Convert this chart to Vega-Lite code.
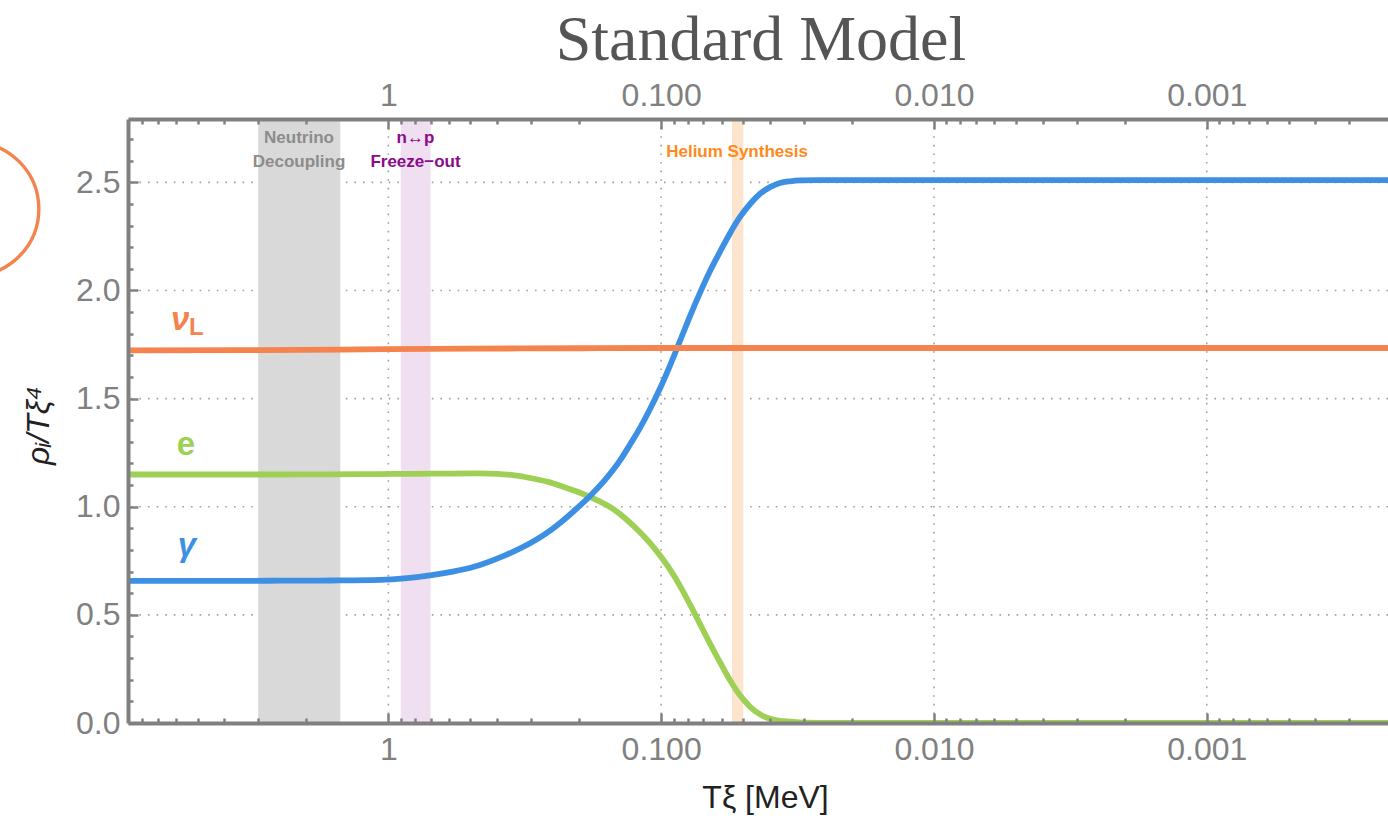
{
  "$schema": "https://vega.github.io/schema/vega-lite/v6.json",
  "width": 1260,
  "height": 604,
  "autosize": {"type": "none"},
  "padding": {"left": 128, "top": 119, "right": 0, "bottom": 96},
  "background": "white",
  "config": {"view": {"stroke": null}, "font": "Liberation Sans"},
  "title": {"text": "Standard Model", "font": "Liberation Serif", "fontSize": 64, "fontWeight": "normal", "color": "#555555", "anchor": "middle", "offset": 1, "dx": 3},
  "datasets": {
    "curves": [
      {"series": "e", "T": 9, "v": 1.149}, {"series": "e", "T": 4.9, "v": 1.149}, {"series": "e", "T": 2.495, "v": 1.149}, {"series": "e", "T": 1.636, "v": 1.150},
      {"series": "e", "T": 1.073, "v": 1.151}, {"series": "e", "T": 0.7037, "v": 1.153}, {"series": "e", "T": 0.4611, "v": 1.154}, {"series": "e", "T": 0.3996, "v": 1.152},
      {"series": "e", "T": 0.349, "v": 1.146}, {"series": "e", "T": 0.3024, "v": 1.133}, {"series": "e", "T": 0.262, "v": 1.116}, {"series": "e", "T": 0.2289, "v": 1.093},
      {"series": "e", "T": 0.1983, "v": 1.065}, {"series": "e", "T": 0.1718, "v": 1.031}, {"series": "e", "T": 0.1501, "v": 0.99}, {"series": "e", "T": 0.1356, "v": 0.947},
      {"series": "e", "T": 0.1195, "v": 0.882}, {"series": "e", "T": 0.1098, "v": 0.832}, {"series": "e", "T": 0.1009, "v": 0.775}, {"series": "e", "T": 0.0928, "v": 0.71},
      {"series": "e", "T": 0.0852, "v": 0.633}, {"series": "e", "T": 0.0783, "v": 0.547}, {"series": "e", "T": 0.0720, "v": 0.457}, {"series": "e", "T": 0.0662, "v": 0.367},
      {"series": "e", "T": 0.0608, "v": 0.28}, {"series": "e", "T": 0.0559, "v": 0.198}, {"series": "e", "T": 0.0514, "v": 0.128}, {"series": "e", "T": 0.0472, "v": 0.075},
      {"series": "e", "T": 0.0434, "v": 0.04}, {"series": "e", "T": 0.0399, "v": 0.02}, {"series": "e", "T": 0.0367, "v": 0.01}, {"series": "e", "T": 0.0337, "v": 0.006},
      {"series": "e", "T": 0.0310, "v": 0.003}, {"series": "e", "T": 0.0262, "v": 0.001}, {"series": "e", "T": 0.0203, "v": 0.0003}, {"series": "e", "T": 0.01, "v": 0},
      {"series": "e", "T": 0.0002166, "v": 0},
      {"series": "gamma", "T": 9, "v": 0.657}, {"series": "gamma", "T": 4.9, "v": 0.657}, {"series": "gamma", "T": 2.495, "v": 0.658}, {"series": "gamma", "T": 1.636, "v": 0.659},
      {"series": "gamma", "T": 1.073, "v": 0.662}, {"series": "gamma", "T": 0.7037, "v": 0.683}, {"series": "gamma", "T": 0.4611, "v": 0.731}, {"series": "gamma", "T": 0.3735, "v": 0.775},
      {"series": "gamma", "T": 0.3024, "v": 0.831}, {"series": "gamma", "T": 0.2664, "v": 0.873}, {"series": "gamma", "T": 0.2348, "v": 0.925}, {"series": "gamma", "T": 0.2068, "v": 0.985},
      {"series": "gamma", "T": 0.1822, "v": 1.05}, {"series": "gamma", "T": 0.1606, "v": 1.124}, {"series": "gamma", "T": 0.1415, "v": 1.214}, {"series": "gamma", "T": 0.1300, "v": 1.288},
      {"series": "gamma", "T": 0.1195, "v": 1.365}, {"series": "gamma", "T": 0.1098, "v": 1.452}, {"series": "gamma", "T": 0.1009, "v": 1.548}, {"series": "gamma", "T": 0.0928, "v": 1.653},
      {"series": "gamma", "T": 0.0852, "v": 1.768}, {"series": "gamma", "T": 0.0783, "v": 1.883}, {"series": "gamma", "T": 0.0720, "v": 1.99}, {"series": "gamma", "T": 0.0662, "v": 2.09},
      {"series": "gamma", "T": 0.0608, "v": 2.18}, {"series": "gamma", "T": 0.0559, "v": 2.265}, {"series": "gamma", "T": 0.0514, "v": 2.34}, {"series": "gamma", "T": 0.0472, "v": 2.4},
      {"series": "gamma", "T": 0.0434, "v": 2.447}, {"series": "gamma", "T": 0.0399, "v": 2.478}, {"series": "gamma", "T": 0.0367, "v": 2.497}, {"series": "gamma", "T": 0.0337, "v": 2.505},
      {"series": "gamma", "T": 0.0310, "v": 2.509}, {"series": "gamma", "T": 0.0262, "v": 2.51}, {"series": "gamma", "T": 0.01, "v": 2.51}, {"series": "gamma", "T": 0.0002166, "v": 2.51},
      {"series": "nu", "T": 9, "v": 1.723}, {"series": "nu", "T": 3, "v": 1.724}, {"series": "nu", "T": 1.5, "v": 1.727}, {"series": "nu", "T": 1, "v": 1.729},
      {"series": "nu", "T": 0.5, "v": 1.731}, {"series": "nu", "T": 0.2, "v": 1.733}, {"series": "nu", "T": 0.1, "v": 1.734}, {"series": "nu", "T": 0.0002166, "v": 1.734}
    ],
    "bands": [
      {"kind": "nd", "start": 3.0, "end": 1.5},
      {"kind": "np", "start": 0.9, "end": 0.7},
      {"kind": "he", "start": 0.055, "end": 0.05}
    ],
    "bandLabels": [
      {"kind": "nd", "T": 2.125, "v": 2.681, "text": "Neutrino"},
      {"kind": "nd", "T": 2.125, "v": 2.573, "text": "Decoupling"},
      {"kind": "np", "T": 0.795, "v": 2.681, "text": "n↔p"},
      {"kind": "np", "T": 0.795, "v": 2.573, "text": "Freeze−out"},
      {"kind": "he", "T": 0.0527, "v": 2.619, "text": "Helium Synthesis"}
    ],
    "gridX": [{"T": 1}, {"T": 0.1}, {"T": 0.01}, {"T": 0.001}],
    "gridY": [{"v": 0.5}, {"v": 1.0}, {"v": 1.5}, {"v": 2.0}, {"v": 2.5}]
  },
  "layer": [
    {
      "data": {"name": "gridX"},
      "mark": {"type": "rule", "color": "#a0a0a0", "strokeWidth": 1.6, "strokeDash": [1.6, 7]},
      "encoding": {
        "x": {
          "field": "T", "type": "quantitative",
          "scale": {"type": "log", "domain": [0.0002166, 9], "reverse": true, "nice": false, "zero": false},
          "axis": {
            "orient": "bottom",
            "values": [8, 7, 6, 5, 4, 3, 2, 1, 0.9, 0.8, 0.7, 0.6, 0.5, 0.4, 0.3, 0.2, 0.1, 0.09, 0.08, 0.07, 0.06, 0.05, 0.04, 0.03, 0.02, 0.01, 0.009, 0.008, 0.007, 0.006, 0.005, 0.004, 0.003, 0.002, 0.001, 0.0009, 0.0008, 0.0007, 0.0006, 0.0005, 0.0004, 0.0003],
            "grid": false,
            "domainColor": "#808080", "domainWidth": 4,
            "tickColor": "#808080", "tickWidth": 2.5,
            "tickSize": {"condition": {"test": "abs(log(datum.value)/LN10 - round(log(datum.value)/LN10)) < 0.01", "value": -10}, "value": -5},
            "labelExpr": "abs(log(datum.value)/LN10 - round(log(datum.value)/LN10)) < 0.01 ? (datum.value > 0.5 ? '1' : format(datum.value, '.3f')) : ''",
            "labelFont": "Liberation Sans", "labelFontSize": 32, "labelColor": "#808080", "labelPadding": 21,
            "labelOverlap": false, "labelFlush": false, "labelBound": false,
            "title": "Tξ [MeV]", "titleFont": "Liberation Sans", "titleFontSize": 32, "titleFontWeight": "normal", "titleColor": "#222222",
            "titleX": 637, "titleY": 84, "titleBaseline": "alphabetic", "titleAlign": "center",
            "zindex": 2
          }
        }
      }
    },
    {
      "data": {"name": "gridY"},
      "mark": {"type": "rule", "color": "#a0a0a0", "strokeWidth": 1.6, "strokeDash": [1.6, 7]},
      "encoding": {
        "y": {
          "field": "v", "type": "quantitative",
          "scale": {"domain": [0, 2.793], "nice": false, "zero": false},
          "axis": {
            "orient": "left",
            "values": [0, 0.1, 0.2, 0.3, 0.4, 0.5, 0.6, 0.7, 0.8, 0.9, 1.0, 1.1, 1.2, 1.3, 1.4, 1.5, 1.6, 1.7, 1.8, 1.9, 2.0, 2.1, 2.2, 2.3, 2.4, 2.5, 2.6, 2.7],
            "grid": false,
            "domainColor": "#808080", "domainWidth": 4,
            "tickColor": "#808080", "tickWidth": 2.5,
            "tickSize": {"condition": {"test": "abs(datum.value*2 - round(datum.value*2)) < 0.01", "value": -10}, "value": -5},
            "labelExpr": "abs(datum.value*2 - round(datum.value*2)) < 0.01 ? format(datum.value, '.1f') : ''",
            "labelFont": "Liberation Sans", "labelFontSize": 32, "labelColor": "#808080", "labelPadding": 18,
            "labelOverlap": false, "labelFlush": false, "labelBound": false,
            "title": "ρᵢ/Tξ⁴", "titleFont": "Liberation Sans", "titleFontSize": 32, "titleFontWeight": "normal", "titleFontStyle": "italic", "titleColor": "#222222",
            "titleX": -80, "titleY": 306, "titleAngle": 270, "titleBaseline": "alphabetic", "titleAlign": "center",
            "zindex": 2
          }
        }
      }
    },
    {
      "data": {"name": "bands"},
      "mark": {"type": "rect"},
      "encoding": {
        "x": {
          "field": "start", "type": "quantitative",
          "axis": {
            "orient": "top",
            "values": [8, 7, 6, 5, 4, 3, 2, 1, 0.9, 0.8, 0.7, 0.6, 0.5, 0.4, 0.3, 0.2, 0.1, 0.09, 0.08, 0.07, 0.06, 0.05, 0.04, 0.03, 0.02, 0.01, 0.009, 0.008, 0.007, 0.006, 0.005, 0.004, 0.003, 0.002, 0.001, 0.0009, 0.0008, 0.0007, 0.0006, 0.0005, 0.0004, 0.0003],
            "grid": false,
            "domainColor": "#808080", "domainWidth": 4,
            "tickColor": "#808080", "tickWidth": 2.5,
            "tickSize": {"condition": {"test": "abs(log(datum.value)/LN10 - round(log(datum.value)/LN10)) < 0.01", "value": -10}, "value": -5},
            "labelExpr": "abs(log(datum.value)/LN10 - round(log(datum.value)/LN10)) < 0.01 ? (datum.value > 0.5 ? '1' : format(datum.value, '.3f')) : ''",
            "labelFont": "Liberation Sans", "labelFontSize": 32, "labelColor": "#808080", "labelPadding": 17,
            "labelOverlap": false, "labelFlush": false, "labelBound": false,
            "title": null,
            "zindex": 2
          }
        },
        "x2": {"field": "end"},
        "color": {"field": "kind", "type": "nominal", "scale": {"domain": ["nd", "np", "he"], "range": ["#d9d9d9", "#f0dff0", "#fde4cc"]}, "legend": null}
      }
    },
    {
      "data": {"name": "curves"},
      "mark": {"type": "line", "strokeWidth": 5.8, "interpolate": "monotone", "clip": true},
      "encoding": {
        "x": {"field": "T", "type": "quantitative", "axis": null},
        "y": {"field": "v", "type": "quantitative", "axis": null},
        "color": {"field": "series", "type": "nominal", "scale": {"domain": ["e", "gamma", "nu"], "range": ["#9dd054", "#3d8fe4", "#f4834d"]}, "legend": null}
      }
    },
    {
      "data": {"name": "bandLabels"},
      "mark": {"type": "text", "font": "Liberation Sans", "fontSize": 17, "fontWeight": "bold", "align": "center", "baseline": "alphabetic"},
      "encoding": {
        "x": {"field": "T", "type": "quantitative", "axis": null},
        "y": {"field": "v", "type": "quantitative", "axis": null},
        "text": {"field": "text"},
        "color": {"field": "kind", "type": "nominal", "scale": {"domain": ["nd", "np", "he"], "range": ["#8c8c8c", "#8b0b8b", "#ff8a1c"]}, "legend": null}
      }
    },
    {
      "data": {"values": [{"T": 5.80, "v": 1.818, "text": "ν"}]},
      "mark": {"type": "text", "font": "Liberation Sans", "fontSize": 33, "fontWeight": "bold", "fontStyle": "italic", "align": "center", "baseline": "alphabetic", "color": "#f4834d"},
      "encoding": {
        "x": {"field": "T", "type": "quantitative", "axis": null},
        "y": {"field": "v", "type": "quantitative", "axis": null},
        "text": {"field": "text"}
      }
    },
    {
      "data": {"values": [{"T": 5.377, "v": 1.795, "text": "L"}]},
      "mark": {"type": "text", "font": "Liberation Sans", "fontSize": 24, "fontWeight": "bold", "align": "left", "baseline": "alphabetic", "color": "#f4834d"},
      "encoding": {
        "x": {"field": "T", "type": "quantitative", "axis": null},
        "y": {"field": "v", "type": "quantitative", "axis": null},
        "text": {"field": "text"}
      }
    },
    {
      "data": {"values": [{"T": 5.515, "v": 1.24, "text": "e"}]},
      "mark": {"type": "text", "font": "Liberation Sans", "fontSize": 33, "fontWeight": "bold", "align": "center", "baseline": "alphabetic", "color": "#9dd054"},
      "encoding": {
        "x": {"field": "T", "type": "quantitative", "axis": null},
        "y": {"field": "v", "type": "quantitative", "axis": null},
        "text": {"field": "text"}
      }
    },
    {
      "data": {"values": [{"T": 5.47, "v": 0.772, "text": "γ"}]},
      "mark": {"type": "text", "font": "Liberation Sans", "fontSize": 33, "fontWeight": "bold", "fontStyle": "italic", "align": "center", "baseline": "alphabetic", "color": "#3d8fe4"},
      "encoding": {
        "x": {"field": "T", "type": "quantitative", "axis": null},
        "y": {"field": "v", "type": "quantitative", "axis": null},
        "text": {"field": "text"}
      }
    },
    {
      "data": {"values": [{"T": 33.6, "v": 2.377}]},
      "mark": {"type": "point", "shape": "circle", "filled": false, "size": 17900, "strokeWidth": 3.4, "color": "#f4834d", "opacity": 1},
      "encoding": {
        "x": {"field": "T", "type": "quantitative", "axis": null},
        "y": {"field": "v", "type": "quantitative", "axis": null}
      }
    }
  ],
  "resolve": {"axis": {"x": "independent", "y": "independent"}, "scale": {"color": "independent"}}
}
